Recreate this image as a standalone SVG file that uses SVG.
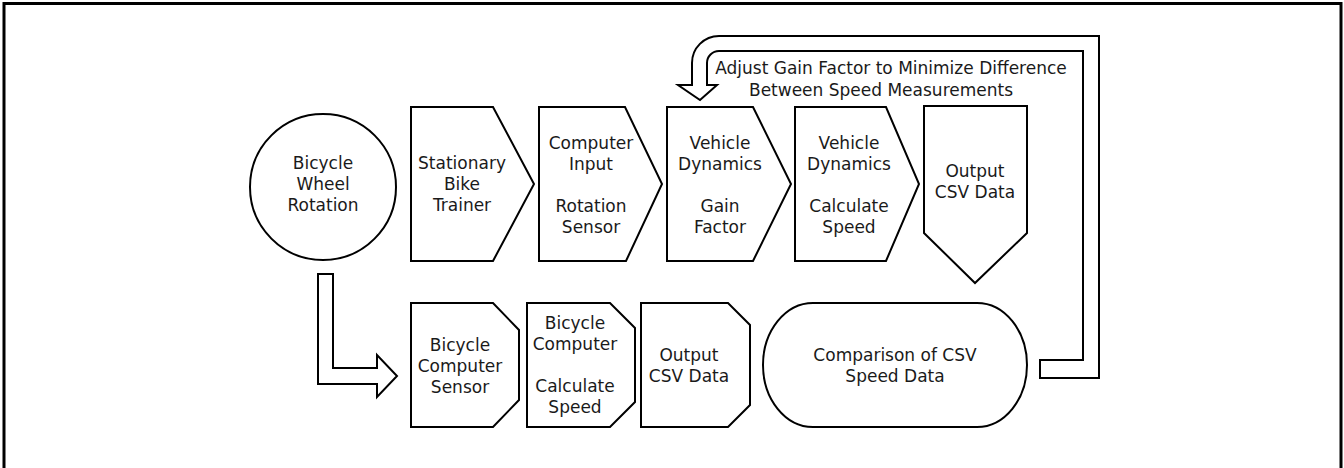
<svg xmlns="http://www.w3.org/2000/svg" width="1344" height="468" viewBox="0 0 1344 468">
<style>
.s{fill:#fff;stroke:#000;stroke-width:2;stroke-linejoin:miter}
.t{font-family:"DejaVu Sans",sans-serif;font-size:17px;fill:#1a1a1a;text-anchor:middle}
</style>
<rect x="0" y="0" width="1344" height="468" fill="#fff"/>
<rect x="4" y="3.5" width="1337" height="480" fill="none" stroke="#000" stroke-width="3"/>
<g id="connectors">
<path class="s" d="M318,274 H333 V368 H377 V355 L397,376 L377,397 V384 H318 Z"/>
<path class="s" d="M1040,360 H1083 V51 H719 A12,12 0 0 0 707,63 V85 H717 L700,100 L678,85 H692 V63 A27,27 0 0 1 719,36 H1099 V378 H1040 Z"/>
<text class="t" x="891" y="74">Adjust Gain Factor to Minimize Difference</text>
<text class="t" x="881" y="96">Between Speed Measurements</text>
</g>
<g id="wheel">
<circle class="s" cx="323" cy="187" r="73"/>
<text class="t" x="323" y="169">Bicycle</text>
<text class="t" x="323" y="190">Wheel</text>
<text class="t" x="323" y="211">Rotation</text>
</g>
<g id="trainer">
<path class="s" d="M411,107 H493 L534,184 L493,261 H411 Z"/>
<text class="t" x="462" y="169">Stationary</text>
<text class="t" x="462" y="190">Bike</text>
<text class="t" x="462" y="211">Trainer</text>
</g>
<g id="computer-input">
<path class="s" d="M539,107 H625 L662,184 L626,261 H539 Z"/>
<text class="t" x="591" y="149">Computer</text>
<text class="t" x="591" y="170">Input</text>
<text class="t" x="591" y="212">Rotation</text>
<text class="t" x="591" y="233">Sensor</text>
</g>
<g id="gain-factor">
<path class="s" d="M667,107 H753 L791,184 L753,261 H667 Z"/>
<text class="t" x="720" y="149">Vehicle</text>
<text class="t" x="720" y="170">Dynamics</text>
<text class="t" x="720" y="212">Gain</text>
<text class="t" x="720" y="233">Factor</text>
</g>
<g id="calc-speed">
<path class="s" d="M795,107 H886 L919,184 L886,261 H795 Z"/>
<text class="t" x="849" y="149">Vehicle</text>
<text class="t" x="849" y="170">Dynamics</text>
<text class="t" x="849" y="212">Calculate</text>
<text class="t" x="849" y="233">Speed</text>
</g>
<g id="output-top">
<path class="s" d="M924,106 H1027 V233 L975,283 L924,233 Z"/>
<text class="t" x="975" y="177">Output</text>
<text class="t" x="975" y="198">CSV Data</text>
</g>
<g id="bike-sensor">
<path class="s" d="M411,303 H493 L519,330 V400 L493,427 H411 Z"/>
<text class="t" x="460" y="351">Bicycle</text>
<text class="t" x="460" y="372">Computer</text>
<text class="t" x="460" y="393">Sensor</text>
</g>
<g id="bike-calc">
<path class="s" d="M527,303 H610 L635,328 V402 L610,427 H527 Z"/>
<text class="t" x="575" y="329">Bicycle</text>
<text class="t" x="575" y="350">Computer</text>
<text class="t" x="575" y="392">Calculate</text>
<text class="t" x="575" y="413">Speed</text>
</g>
<g id="output-bottom">
<path class="s" d="M641,303 H728 L750,325 V405 L728,427 H641 Z"/>
<text class="t" x="689" y="361">Output</text>
<text class="t" x="689" y="382">CSV Data</text>
</g>
<g id="comparison">
<rect class="s" x="763" y="303" width="264" height="124" rx="50" ry="62"/>
<text class="t" x="895" y="361">Comparison of CSV</text>
<text class="t" x="895" y="382">Speed Data</text>
</g>
</svg>
